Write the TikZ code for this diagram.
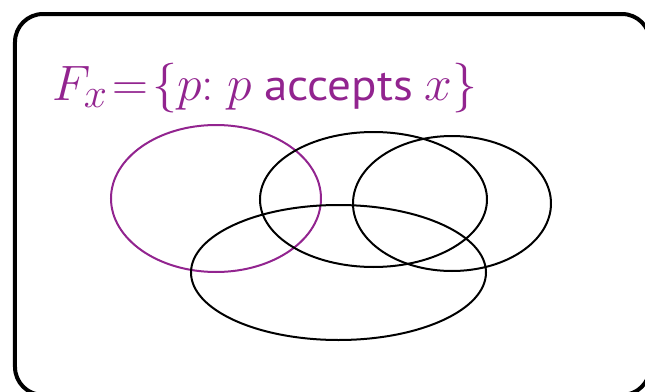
\documentclass[tikz,border=0pt]{standalone}
\usepackage{fontspec}
\newfontfamily\gillish{PT Sans}
\usetikzlibrary{shapes.geometric}
\definecolor{setpurple}{RGB}{146,36,143}

\begin{document}
\begin{tikzpicture}[x=0.5pt,y=-0.5pt,
  setshape/.style={draw,ellipse,inner sep=0pt,line width=1pt}]
\useasboundingbox (0,0) rectangle (645,392);

% outer frame, runs past the right and bottom edges
\draw[line width=2pt,rounded corners=14pt] (15,14) rectangle (650,395);

\node[anchor=base west,text=setpurple,inner sep=0pt,font=\Huge] (title) at (52,100)
  {$F_x\mskip1.5mu{=}\mskip1.5mu\{p{:}\mskip5mu p$\hspace{6pt}{\gillish\fontsize{22}{26}\selectfont\scalebox{1.07}[1]{accepts}}\hspace{6pt}$x\}$};

\node[setshape,draw=setpurple,minimum width=105pt,minimum height=73.5pt] (fx) at (216,198.5) {};
\node[setshape,minimum width=113.5pt,minimum height=67.5pt] (mid) at (373.5,199.5) {};
\node[setshape,minimum width=99pt,minimum height=67.5pt] (right) at (452,203.5) {};
\node[setshape,minimum width=147.5pt,minimum height=67.5pt] (low) at (338.5,272.5) {};
\end{tikzpicture}
\end{document}
